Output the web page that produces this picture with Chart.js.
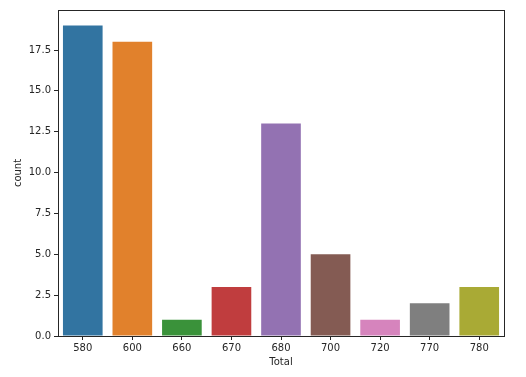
<!DOCTYPE html>
<html>
<head>
<meta charset="utf-8">
<script src="https://cdn.jsdelivr.net/npm/chart.js@4"></script>
<style>
  html, body { margin: 0; padding: 0; background: #fff; }
</style>
</head>
<body>
<canvas id="chart" width="526" height="377"></canvas>
<script>
const totals = ['580', '600', '660', '670', '680', '700', '720', '770', '780'];
const counts = [19, 18, 1, 3, 13, 5, 1, 2, 3];
const barColors = ['#3274a1', '#e1812c', '#3a923a', '#c03d3e', '#9372b2',
                   '#845b53', '#d684bd', '#7f7f7f', '#a9aa35'];
const yTicks = [0, 2.5, 5, 7.5, 10, 12.5, 15, 17.5];

const ink = '#262626';
const font = { family: 'DejaVu Sans', size: 10 };

// box around the plot area, like matplotlib's spines
const frame = {
  id: 'frame',
  afterDraw(chart) {
    const { ctx, chartArea: a } = chart;
    ctx.save();
    ctx.strokeStyle = ink;
    ctx.lineWidth = 1;
    ctx.strokeRect(a.left + 0.5, a.top + 0.5, a.right - a.left, a.bottom - a.top);
    ctx.restore();
  }
};

new Chart(document.getElementById('chart').getContext('2d'), {
  type: 'bar',
  data: {
    labels: totals,
    datasets: [{
      data: counts,
      backgroundColor: barColors,
      categoryPercentage: 1,
      barPercentage: 0.8,
      borderWidth: 0
    }]
  },
  options: {
    responsive: false,
    animation: false,
    layout: { padding: { left: 0, top: 10, right: 22, bottom: 0 } },
    plugins: { legend: { display: false }, tooltip: { enabled: false } },
    scales: {
      x: {
        offset: true,
        grid: { offset: false, drawOnChartArea: false, drawTicks: true, tickLength: 4, color: ink },
        border: { display: false },
        ticks: { color: ink, font, padding: 2 },
        title: { display: true, text: 'Total', color: ink, font, padding: { top: 0, bottom: 9 } },
        afterFit(scale) { scale.height = 41; }
      },
      y: {
        min: 0,
        max: 19.95,
        grid: { drawOnChartArea: false, drawTicks: true, tickLength: 4, color: ink },
        border: { display: false },
        ticks: { color: ink, font, padding: 3, callback: v => v.toFixed(1) },
        afterBuildTicks(scale) { scale.ticks = yTicks.map(v => ({ value: v })); },
        title: { display: true, text: 'count', color: ink, font, padding: { top: 12, bottom: 0 } },
        afterFit(scale) { scale.width = 58; }
      }
    }
  },
  plugins: [frame]
});
</script>
</body>
</html>
